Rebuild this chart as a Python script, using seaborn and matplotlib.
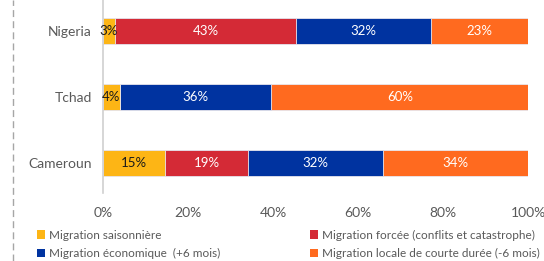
"""Stacked horizontal bars: migration types by country."""

import numpy as np
import matplotlib
matplotlib.use("Agg")
import matplotlib.pyplot as plt
import matplotlib.ticker as mticker
from matplotlib.lines import Line2D
from matplotlib.patches import Patch
import seaborn as sns
import pandas as pd

sns.set_theme(style="white")
plt.rcParams["font.family"] = ["Lato", "DejaVu Sans"]

# ---------------------------------------------------------------------------
# Data
# ---------------------------------------------------------------------------
countries = ["Nigeria", "Tchad", "Cameroun"]
types = [
    "Migration saisonnière",
    "Migration forcée (conflits et catastrophe)",
    "Migration économique  (+6 mois)",
    "Migration locale de courte durée (-6 mois)",
]
saisonniere = [2.9, 4.0, 14.7]
forcee = [42.6, 0.0, 19.4]
economique = [31.6, 35.6, 31.8]
locale = [22.9, 60.4, 34.1]

colors = ["#FDB515", "#D42A36", "#0033A0", "#FF6A1F"]
label_colors = ["#1a1a1a", "white", "white", "white"]

df = pd.DataFrame(
    {"pays": countries, types[0]: saisonniere, types[1]: forcee,
     types[2]: economique, types[3]: locale}
)
cum = df[types].cumsum(axis=1)

# ---------------------------------------------------------------------------
# Plot
# ---------------------------------------------------------------------------
fig = plt.figure(figsize=(5.44, 2.61), dpi=100)
ax = fig.add_axes([0.189, 0.26, 0.782, 0.74])

# draw cumulative totals back to front so each segment shows
for i in range(len(types) - 1, -1, -1):
    sns.barplot(x=cum[types[i]], y=df["pays"], orient="h", color=colors[i],
                saturation=1, width=0.39, edgecolor="#e8e8f0", linewidth=0.6, ax=ax)

# segment labels
for i, t in enumerate(types):
    for j, v in enumerate(df[t]):
        if v <= 0:
            continue
        center = cum[t].iloc[j] - v / 2
        ax.text(center, j, f"{round(v):.0f}%", ha="center", va="center",
                color=label_colors[i], fontsize=9.5)

ax.set_xlim(0, 100)
ax.set_ylim(2.45, -0.47)
ax.xaxis.set_major_locator(mticker.MultipleLocator(20))
ax.xaxis.set_major_formatter(mticker.FuncFormatter(lambda x, _: f"{int(x)}%"))
ax.set_xlabel("")
ax.set_ylabel("")
ax.tick_params(axis="x", length=0, pad=10, labelsize=10, labelcolor="#595959")
ax.tick_params(axis="y", length=0, pad=8, labelsize=10, labelcolor="#595959")
for side in ["top", "right", "bottom"]:
    ax.spines[side].set_visible(False)
ax.spines["left"].set_color("#d0d0d0")
ax.spines["left"].set_linewidth(1.2)

handles = [Patch(facecolor=colors[k], edgecolor="none") for k in [0, 2, 1, 3]]
labels = [types[k] for k in [0, 2, 1, 3]]
fig.legend(handles, labels, ncol=2, loc="upper left",
           bbox_to_anchor=(0.068, 0.12), frameon=False, fontsize=8.5,
           labelcolor="#595959", handlelength=0.7, handleheight=0.7,
           handletextpad=0.3, columnspacing=7.6, labelspacing=0.6,
           borderaxespad=0, borderpad=0)

# dashed frame line at the left of the slide
fig.add_artist(Line2D([13 / 544, 13 / 544], [0, 1], transform=fig.transFigure,
                      color="#a6a6a6", linestyle=(0, (5, 3)), linewidth=1))

fig.savefig("out.png", dpi=100)
